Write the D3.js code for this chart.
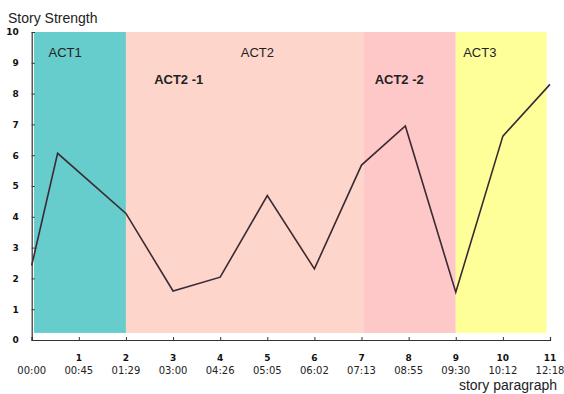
<!DOCTYPE html>
<html>
<head>
<meta charset="utf-8">
<script src="https://cdn.jsdelivr.net/npm/d3@7/dist/d3.min.js"></script>
<style>
  body { margin: 0; background: #fff; }
  svg { display: block; }
</style>
</head>
<body>
<svg id="chart" width="564" height="394"></svg>
<script>
// ---- data ----
const pointIndex = [0, 0.55, 2, 3, 4, 5, 6, 7, 7.93, 9, 10, 11];
const strength   = [2.42, 6.06, 4.11, 1.59, 2.04, 4.69, 2.31, 5.68, 6.95, 1.55, 6.62, 8.3];

const tickIndex  = [0, 1, 2, 3, 4, 5, 6, 7, 8, 9, 10, 11];
const tickNumber = ["", "1", "2", "3", "4", "5", "6", "7", "8", "9", "10", "11"];
const tickTime   = ["00:00", "00:45", "01:29", "03:00", "04:26", "05:05", "06:02", "07:13", "08:55", "09:30", "10:12", "12:18"];
const yTicks     = [0, 1, 2, 3, 4, 5, 6, 7, 8, 9, 10];

const bandNames  = ["ACT1", "ACT2", "ACT2 -2", "ACT3"];
const bandStart  = [0.05, 2, 7.05, 9];
const bandEnd    = [2, 7.05, 9, 10.93];
const bandColors = ["#66cccc", "#fdd5ca", "#ffc8c8", "#ffff99"];
const bandLow    = 0.23;
const bandHigh   = 10;

const actLabels  = ["ACT1", "ACT2", "ACT2 -1", "ACT2 -2", "ACT3"];
const actLabelX  = [0.71, 4.79, 3.12, 7.8, 9.51];
const actLabelY  = [9.35, 9.35, 8.47, 8.47, 9.35];
const actBold    = [false, false, true, true, false];

// ---- scales ----
const svg = d3.select("#chart");
const x = d3.scaleLinear().domain([0, 11]).range([31.7, 550]);
const y = d3.scaleLinear().domain([0, 10]).range([340, 32]);

// bands
svg.append("g").selectAll("rect")
  .data(bandNames.map((n, i) => ({ n, s: bandStart[i], e: bandEnd[i], c: bandColors[i] })))
  .join("rect")
  .attr("x", d => x(d.s))
  .attr("width", d => x(d.e) - x(d.s))
  .attr("y", y(bandHigh))
  .attr("height", y(bandLow) - y(bandHigh))
  .attr("fill", d => d.c);

// act labels
svg.append("g").selectAll("text")
  .data(actLabels.map((t, i) => ({ t, x: actLabelX[i], y: actLabelY[i], b: actBold[i] })))
  .join("text")
  .attr("x", d => x(d.x))
  .attr("y", d => y(d.y))
  .attr("dy", "0.35em")
  .attr("text-anchor", "middle")
  .attr("font-family", "Liberation Sans, Arial, sans-serif")
  .attr("font-size", 13)
  .attr("font-weight", d => d.b ? "bold" : "normal")
  .attr("fill", "#222")
  .text(d => d.t);

// y axis
const yAxis = svg.append("g").attr("transform", `translate(${x(0)},0)`)
  .call(d3.axisLeft(y).tickValues(yTicks).tickSize(-3).tickPadding(13).tickFormat(d3.format("d")));
yAxis.select(".domain").attr("stroke", "#333").attr("stroke-width", 1.2);
yAxis.selectAll(".tick line").attr("stroke", "#333");
yAxis.selectAll(".tick text")
  .attr("font-family", "DejaVu Sans, Verdana, sans-serif")
  .attr("font-size", 9).attr("font-weight", "bold").attr("fill", "#111");

// x axis
const xAxis = svg.append("g").attr("transform", `translate(0,${y(0)})`)
  .call(d3.axisBottom(x).tickValues(tickIndex).tickSize(-3).tickFormat(() => ""));
xAxis.select(".domain").attr("stroke", "#333").attr("stroke-width", 1.2);
xAxis.selectAll(".tick line").attr("stroke", "#333");

svg.append("g").selectAll("text")
  .data(tickIndex)
  .join("text")
  .attr("x", d => x(d))
  .attr("y", 361)
  .attr("text-anchor", "middle")
  .attr("font-family", "DejaVu Sans, Verdana, sans-serif")
  .attr("font-size", 9).attr("font-weight", "bold").attr("fill", "#111")
  .text((d, i) => tickNumber[i]);

svg.append("g").selectAll("text")
  .data(tickIndex)
  .join("text")
  .attr("x", d => x(d))
  .attr("y", 374)
  .attr("text-anchor", "middle")
  .attr("font-family", "DejaVu Sans, Verdana, sans-serif")
  .attr("font-size", 10).attr("fill", "#222")
  .text((d, i) => tickTime[i]);

// line
const line = d3.line().x((d, i) => x(pointIndex[i])).y(d => y(d));
svg.append("path")
  .datum(strength)
  .attr("d", line)
  .attr("fill", "none")
  .attr("stroke", "#3b2a33")
  .attr("stroke-width", 1.6)
  .attr("stroke-linejoin", "miter");

// titles
svg.append("text")
  .attr("x", 8).attr("y", 23)
  .attr("font-family", "Liberation Sans, Arial, sans-serif")
  .attr("font-size", 14).attr("fill", "#222")
  .text("Story Strength");

svg.append("text")
  .attr("x", 557).attr("y", 390)
  .attr("text-anchor", "end")
  .attr("font-family", "Liberation Sans, Arial, sans-serif")
  .attr("font-size", 14).attr("fill", "#222")
  .text("story paragraph");
</script>
</body>
</html>
